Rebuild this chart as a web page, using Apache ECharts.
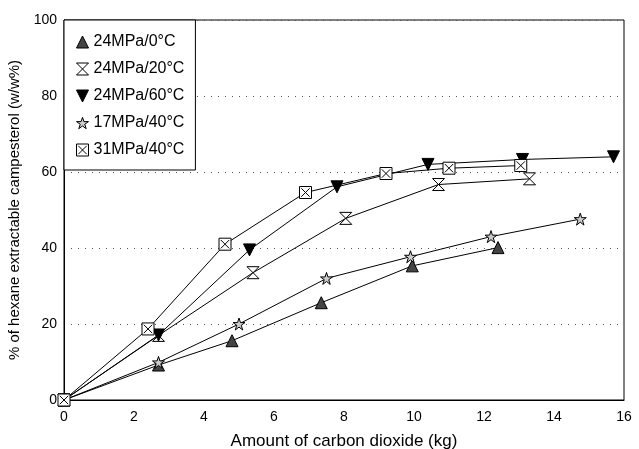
<!DOCTYPE html>
<html><head><meta charset="utf-8">
<script src="https://cdn.jsdelivr.net/npm/echarts@6/dist/echarts.min.js"></script>
<style>html,body{margin:0;padding:0;background:#fff}#c{width:639px;height:449px}</style>
</head><body><div id="c"></div>
<script>
var seriesNames = ['24MPa/0°C', '24MPa/20°C', '24MPa/60°C', '17MPa/40°C', '31MPa/40°C'];
var s0C24 = [[0,0],[2.7,9.2],[4.8,15.6],[7.35,25.6],[9.95,35.3],[12.4,40.1]];
var s20C24 = [[0,0],[2.7,17],[5.4,33.5],[8.05,47.8],[10.7,56.7],[13.3,58.2]];
var s60C24 = [[0,0],[2.7,17.1],[5.3,39.5],[7.8,56.1],[10.4,62],[13.1,63.3],[15.7,64]];
var s40C17 = [[0,0],[2.7,9.9],[5.0,20],[7.5,32],[9.9,37.7],[12.2,43],[14.75,47.6]];
var s40C31 = [[0,0],[2.4,18.7],[4.6,41],[6.9,54.6],[9.2,59.6],[11.0,61],[13.05,61.7]];
var xTicks = [0,2,4,6,8,10,12,14,16];
var yTicks = [0,20,40,60,80,100];

var symUp = 'path://M5,0L10,10L0,10Z';
var symDown = 'path://M0,0L10,0L5,10Z';
var symHour = 'path://M0,0L10,0L0,10L10,10Z';
var symStar = 'path://M5,0L6.2,3.6L10,3.6L6.9,5.8L8.1,9.5L5,7.2L1.9,9.5L3.1,5.8L0,3.6L3.8,3.6Z';
var symBox = 'path://M0,0L10,0L10,10L0,10Z M1.5,1.5L8.5,8.5 M8.5,1.5L1.5,8.5';
var symbols = [symUp, symHour, symDown, symStar, symBox];
var fills = ['#444', '#fff', '#000', '#ccc', '#fff'];
var datas = [s0C24, s20C24, s60C24, s40C17, s40C31];

var font = 'Liberation Sans, Arial, Helvetica, sans-serif';
var chart = echarts.init(document.getElementById('c'), null, {renderer:'canvas'});
chart.setOption({
  animation: false,
  backgroundColor: '#fff',
  grid: {left: 64, right: 15, top: 20, bottom: 49, show: true, borderColor: '#000', borderWidth: 1,
         containLabel: false, outerBoundsMode: 'none'},
  legend: {
    orient: 'vertical', left: 64, top: 20,
    padding: [14, 11, 12, 12], itemGap: 11,
    itemWidth: 12, itemHeight: 12,
    borderColor: '#000', borderWidth: 1, backgroundColor: '#fff',
    textStyle: {fontFamily: font, fontSize: 16, color: '#000'},
    data: seriesNames.map(function(n, i){ return {name: n, icon: symbols[i], itemStyle: {color: fills[i], borderColor: '#000', borderWidth: 1}}; })
  },
  xAxis: {
    type: 'value', min: xTicks[0], max: xTicks[xTicks.length-1], interval: 2,
    name: 'Amount of carbon dioxide (kg)', nameLocation: 'middle', nameGap: 33,
    nameTextStyle: {fontFamily: font, fontSize: 17, color: '#000'},
    axisLine: {lineStyle: {color: '#000', width: 1}},
    axisTick: {show: false},
    axisLabel: {fontFamily: font, fontSize: 14, color: '#000', margin: 10},
    splitLine: {show: false}
  },
  yAxis: {
    type: 'value', min: yTicks[0], max: yTicks[yTicks.length-1], interval: 20,
    name: '% of hexane extractable campesterol (w/w%)', nameLocation: 'middle', nameGap: 36,
    nameTextStyle: {fontFamily: font, fontSize: 15, color: '#000'},
    axisLine: {show: true, lineStyle: {color: '#000', width: 1}},
    axisTick: {show: false},
    axisLabel: {fontFamily: font, fontSize: 14, color: '#000', margin: 7},
    splitLine: {show: true, lineStyle: {color: '#555', width: 1, type: [1, 6]}}
  },
  series: datas.map(function(d, i){
    return {
      name: seriesNames[i], type: 'line', data: d,
      symbol: symbols[i], symbolSize: 12, showAllSymbol: true,
      lineStyle: {color: '#000', width: 1},
      itemStyle: {color: fills[i], borderColor: '#000', borderWidth: 1},
      emphasis: {disabled: true}, z: 3 + i
    };
  })
});
</script></body></html>
